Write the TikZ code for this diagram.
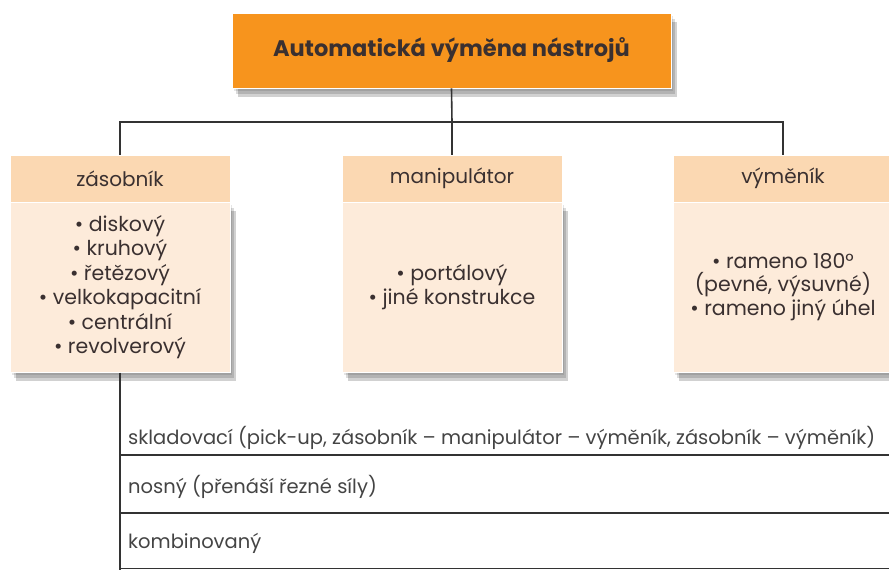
\documentclass[tikz,border=0pt]{standalone}
\usepackage{fontspec}
\setmainfont{Poppins}
\usetikzlibrary{shadows}
\definecolor{orangeT}{HTML}{F7941D}
\definecolor{hdr}{HTML}{FBD8B2}
\definecolor{bdy}{HTML}{FDEBDA}
\definecolor{txt}{HTML}{3A3030}
\definecolor{rowtxt}{HTML}{444444}
\definecolor{ln}{HTML}{333333}
\tikzset{
  softshadow/.style={
    general shadow={fill=black,opacity=.10,shadow xshift=2pt,shadow yshift=-3pt},
    general shadow={fill=black,opacity=.14,shadow xshift=4pt,shadow yshift=-6pt},
    general shadow={fill=black,opacity=.18,shadow xshift=6pt,shadow yshift=-9pt}},
  topbox/.style={rectangle,fill=orangeT,draw=white,line width=0.8pt,softshadow,
    minimum width=439pt,minimum height=75pt,inner sep=0pt,text=txt,
    font=\fontsize{22.5}{26}\selectfont\bfseries},
  hdrbox/.style={rectangle,fill=hdr,draw=white,line width=1pt,
    minimum width=220pt,minimum height=47pt,inner sep=0pt,text=txt,
    font=\fontsize{20}{24}\selectfont},
  bodybox/.style={rectangle,fill=bdy,draw=white,line width=1pt,softshadow,
    minimum width=220pt,minimum height=170pt,inner sep=0pt,text=txt,align=center,
    font=\fontsize{20.5}{24.5}\selectfont},
  rowtext/.style={anchor=west,inner sep=0pt,text=rowtxt,font=\fontsize{19.5}{23}\selectfont},
  conn/.style={draw=ln,line width=1.6pt},
}
\begin{document}
\begin{tikzpicture}[x=1pt,y=-1pt]
\useasboundingbox (0,0) rectangle (889,570);
% top
\node[topbox] (top) at (451.5,50.5) {Automatická výměna nástrojů};
% boxes
\node[bodybox] (lbody) at (120,287) {• diskový\\• kruhový\\• řetězový\\• velkokapacitní\\• centrální\\• revolverový};
\node[hdrbox] (lhead) at (120,178.5) {zásobník};
\node[bodybox] (mbody) at (452,287) {• portálový\\• jiné konstrukce};
\node[hdrbox] (mhead) at (452,178.5) {manipulátor};
\node[bodybox,font=\fontsize{20.5}{23.5}\selectfont] (rbody) at (783,287) {• rameno 180°\\(pevné, výsuvné)\\• rameno jiný úhel};
\node[hdrbox] (rhead) at (783,178.5) {výměník};
% connectors
\coordinate (j) at (452,122);
\draw[conn] (top.south) -- (j);
\draw[conn] (lhead.north) |- (j) -| (rhead.north);
\draw[conn] (j) -- (mhead.north);
% rows
\coordinate (vend) at (120,570);
\coordinate (l1a) at (120,455); \coordinate (l1b) at (889,455);
\coordinate (l2a) at (120,513); \coordinate (l2b) at (889,513);
\coordinate (l3a) at (120,568.5); \coordinate (l3b) at (889,568.5);
\draw[conn] (lbody.south) -- (vend);
\draw[conn] (l1a) -- (l1b);
\draw[conn] (l2a) -- (l2b);
\draw[conn] (l3a) -- (l3b);
\node[rowtext] (r1) at (128,438) {skladovací (pick-up, zásobník – manipulátor – výměník, zásobník – výměník)};
\node[rowtext] (r2) at (128,487) {nosný (přenáší řezné síly)};
\node[rowtext] (r3) at (128,543) {kombinovaný};
\end{tikzpicture}
\end{document}
